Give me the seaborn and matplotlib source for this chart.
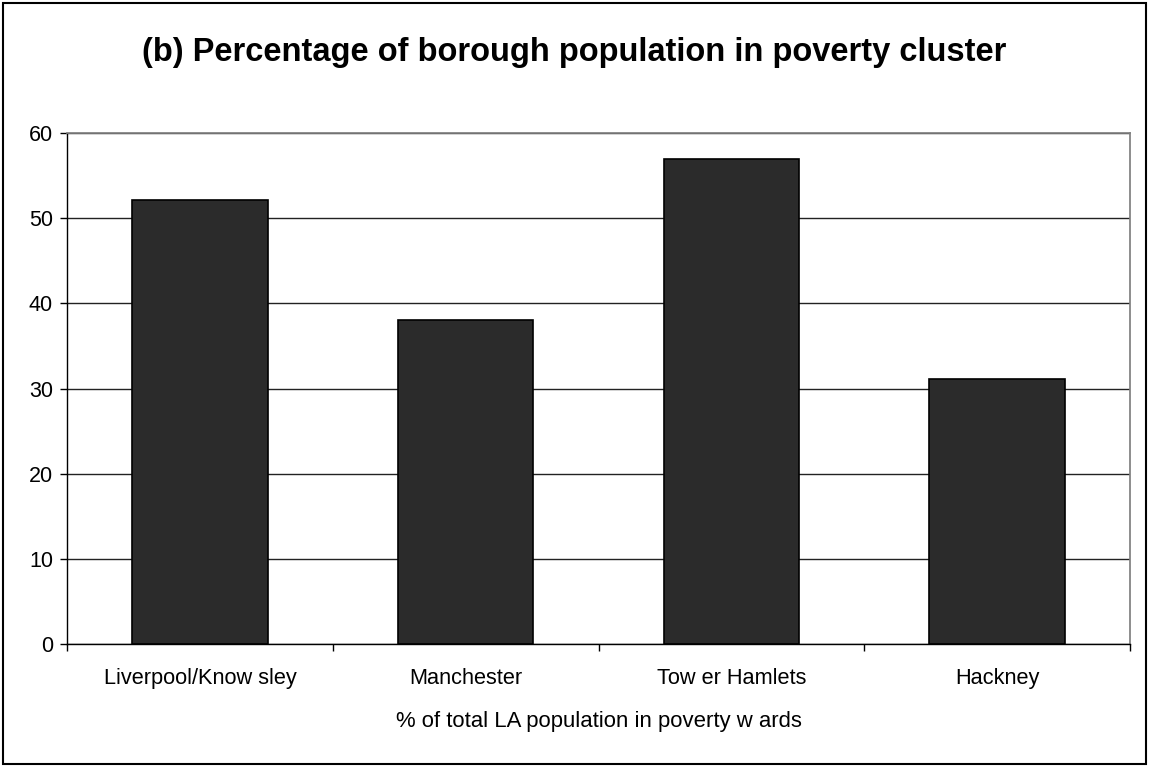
import matplotlib
matplotlib.use("Agg")
import matplotlib.pyplot as plt
import seaborn as sns
import pandas as pd
from matplotlib.patches import Rectangle

categories = ["Liverpool/Know sley", "Manchester", "Tow er Hamlets", "Hackney"]
values = [52.1, 38.0, 56.9, 31.1]
title = "(b) Percentage of borough population in poverty cluster"
xlabel = "% of total LA population in poverty w ards"
yticks = [0, 10, 20, 30, 40, 50, 60]

sns.set_theme(style="white")
plt.rcParams['font.family'] = ['Liberation Sans', 'DejaVu Sans']
plt.rcParams['text.color'] = 'black'
plt.rcParams['xtick.color'] = 'black'
plt.rcParams['ytick.color'] = 'black'
plt.rcParams['axes.labelcolor'] = 'black'

df = pd.DataFrame({"cat": categories, "val": values})

fig = plt.figure(figsize=(11.49, 7.67), dpi=100)
ax = fig.add_axes([67/1149, 1 - 644/767, (1130-67)/1149, (644-133)/767])

sns.barplot(data=df, x="cat", y="val", ax=ax, color="#2b2b2b", width=0.51,
            edgecolor="black", linewidth=1.2, saturation=1)

ax.set_ylim(0, 60)
ax.set_xlim(-0.5, len(categories) - 0.5)
ax.set_yticks(yticks)
ax.yaxis.grid(True, color="#222222", linewidth=1)
ax.set_axisbelow(True)
for s in ["top", "right"]:
    ax.spines[s].set_color("#808080")
for s in ["left", "bottom"]:
    ax.spines[s].set_color("black")
    ax.spines[s].set_linewidth(1)

ax.set_xticks([i - 0.5 for i in range(len(categories) + 1)], minor=False)
ax.set_xticklabels([])
ax.set_xticks(range(len(categories)), minor=True)
ax.set_xticklabels(categories, minor=True, fontsize=15.7)
ax.tick_params(axis="x", which="major", length=5, width=1, color="black", direction="out", bottom=True)
ax.tick_params(axis="x", which="minor", length=0, pad=17)
ax.tick_params(axis="y", length=5, width=1, color="black", direction="out", left=True, labelsize=15.5, pad=5)

ax.set_xlabel(xlabel, fontsize=15.9, labelpad=16)
ax.set_ylabel("")
fig.text(0.5, 1 - 52/767, title, ha="center", va="center", fontsize=23.5, fontweight="bold")

fig.patches.append(Rectangle((3/1149, 3/767), 1143/1149, 761/767, transform=fig.transFigure,
                             fill=False, edgecolor="black", linewidth=1.5))

fig.savefig("out.png", dpi=100)
